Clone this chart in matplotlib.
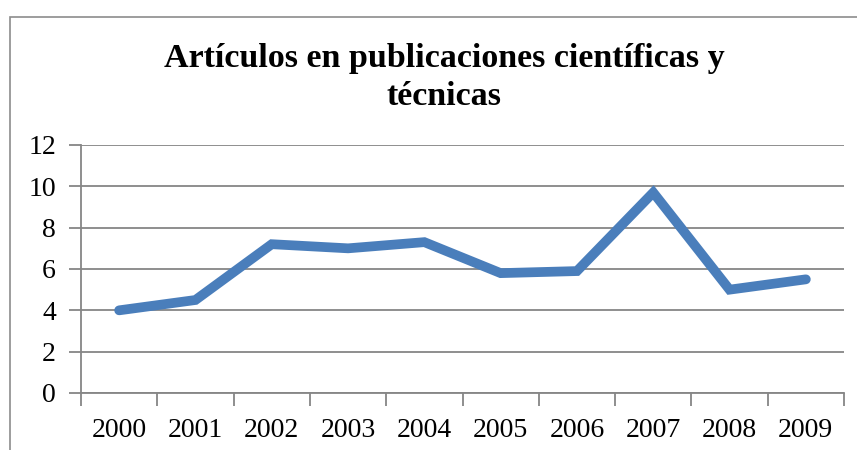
import matplotlib
matplotlib.use("Agg")
import matplotlib.pyplot as plt
from matplotlib.patches import Rectangle

years = ["2000", "2001", "2002", "2003", "2004", "2005", "2006", "2007", "2008", "2009"]
values = [4.0, 4.5, 7.2, 7.0, 7.3, 5.8, 5.9, 9.7, 5.0, 5.5]
yticks = [0, 2, 4, 6, 8, 10, 12]
title_lines = ["Artículos en publicaciones científicas y", "técnicas"]

W, H = 857, 450
fig = plt.figure(figsize=(W / 100, H / 100), dpi=100)
fig.patch.set_facecolor("white")

# chart frame
fig.patches.append(Rectangle((10 / W, -0.1), 1.2, (H - 17) / H + 0.1,
                             transform=fig.transFigure, fill=False,
                             edgecolor="#8c8c8c", linewidth=1.2))

ax = fig.add_axes([81 / W, (H - 393) / H, (844 - 81) / W, (393 - 145) / H])
x = list(range(len(years)))
ax.plot(x, values, color="#4a7ebb", linewidth=7, solid_capstyle="round",
        solid_joinstyle="miter", zorder=3)

ax.set_xlim(-0.5, len(years) - 0.5)
ax.set_ylim(0, 12)
ax.set_yticks(yticks)
ax.set_yticklabels([str(v) for v in yticks])
ax.set_xticks(x)
ax.set_xticklabels(years)
ax.set_xticks([i - 0.5 for i in range(len(years) + 1)], minor=True)

font = "Liberation Serif"
ax.tick_params(axis="x", which="major", length=0, pad=18, labelsize=20)
ax.tick_params(axis="x", which="minor", length=9, width=1.3, color="#868686")
ax.tick_params(axis="y", which="major", length=9, width=1.3, color="#868686",
               pad=9, labelsize=20)
for lab in ax.get_xticklabels() + ax.get_yticklabels():
    lab.set_fontfamily(font)

ax.grid(axis="y", color="#868686", linewidth=1.3, zorder=1)
for s in ["top", "right"]:
    ax.spines[s].set_visible(False)
for s in ["left", "bottom"]:
    ax.spines[s].set_color("#868686")
    ax.spines[s].set_linewidth(1.3)

baselines = [67, 105]
for line, yb in zip(title_lines, baselines):
    fig.text(444 / W, 1 - yb / H, line, ha="center", va="baseline",
             fontsize=24.5, fontweight="bold", fontfamily=font)

fig.savefig("out.png", dpi=100)
